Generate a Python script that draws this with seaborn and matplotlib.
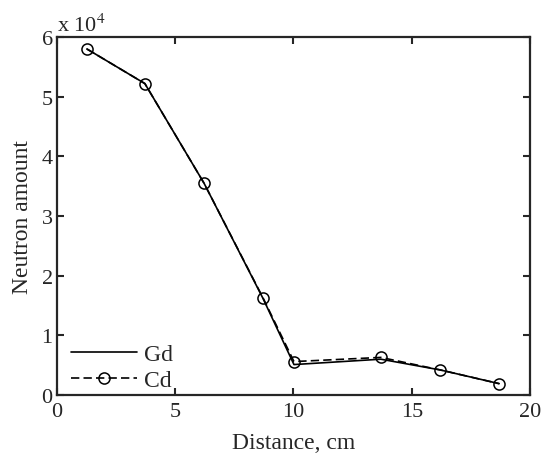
import pandas as pd
import seaborn as sns
import matplotlib.pyplot as plt

# values (x in cm, y in units of 1e4)
distance = [1.27, 3.72, 6.22, 8.71, 10.02, 13.69, 16.2, 18.69]
gd_amount = [5.80, 5.22, 3.55, 1.62, 0.51, 0.60, 0.42, 0.19]
cd_amount = [5.80, 5.22, 3.55, 1.63, 0.56, 0.63, 0.42, 0.19]

df = pd.concat([
    pd.DataFrame({'Distance': distance, 'Amount': gd_amount, 'Material': 'Gd'}),
    pd.DataFrame({'Distance': distance, 'Amount': cd_amount, 'Material': 'Cd'}),
])

sns.set_style('ticks')
plt.rcParams['font.family'] = ['Liberation Serif', 'DejaVu Serif']
plt.rcParams['mathtext.fontset'] = 'stix'

fig = plt.figure(figsize=(5.41, 4.56), dpi=100)
ax = fig.add_axes([0.105, 0.1316, 0.875, 0.785])

sns.lineplot(data=df[df.Material == 'Gd'], x='Distance', y='Amount', ax=ax,
             color='black', lw=1.2, label='Gd')
sns.lineplot(data=df[df.Material == 'Cd'], x='Distance', y='Amount', ax=ax,
             color='black', lw=1.2, dashes=False, marker='o', markersize=8,
             markerfacecolor='none', markeredgecolor='black', markeredgewidth=1.1,
             label='Cd')
ax.lines[1].set_dashes((5, 2.5))

ax.set_xlim(0, 20)
ax.set_ylim(0, 6)
ax.set_xticks([0, 5, 10, 15, 20])
ax.set_yticks([0, 1, 2, 3, 4, 5, 6])
ax.tick_params(direction='in', top=True, right=True, labelsize=16, length=5, width=1.5, pad=3)
ax.tick_params(axis='x', pad=5)
for s in ax.spines.values():
    s.set_linewidth(1.6)

ax.set_xlabel('Distance, cm', fontsize=17, labelpad=8)
ax.set_ylabel('Neutron amount', fontsize=17, labelpad=6)
ax.text(0.0, 1.003, r'x 10$^4$', transform=ax.transAxes, fontsize=16, va='bottom', ha='left')

ax.legend(loc='lower left', bbox_to_anchor=(0.015, -0.01), frameon=False, fontsize=17,
          handlelength=2.8, borderaxespad=0.0, borderpad=0.3, labelspacing=0.2,
          handletextpad=0.3)

fig.savefig('out.png', dpi=100)
